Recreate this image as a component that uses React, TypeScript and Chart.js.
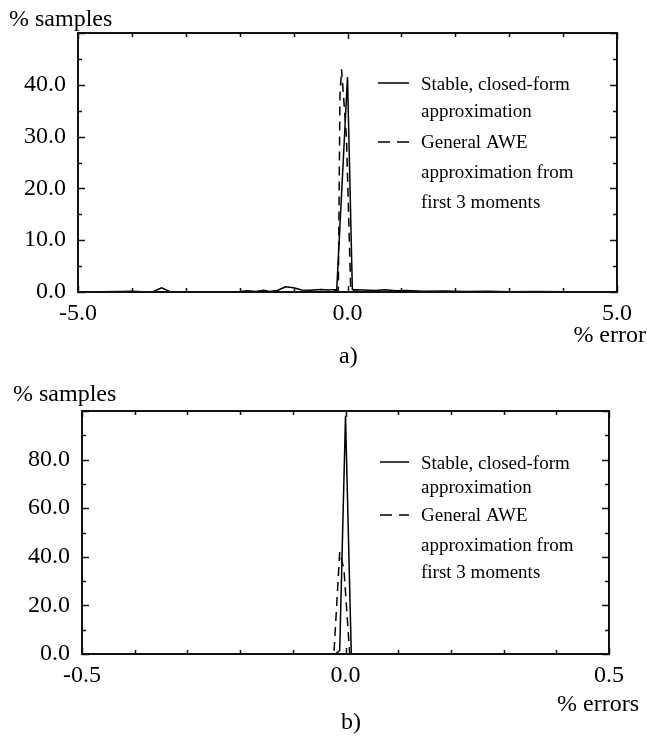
import React, { useEffect, useRef } from "react";
import { Chart, registerables } from "chart.js";

Chart.register(...registerables);

const SERIF = '"Liberation Serif", "Times New Roman", Times, serif';

// ---------- panel a) ----------
const A_SOLID_X = [-5.0, -4.6, -4.2, -4.0, -3.8, -3.6, -3.45, -3.3, -3.0, -2.6, -2.2, -2.0, -1.85, -1.7, -1.55, -1.45, -1.3, -1.15, -1.0, -0.85, -0.7, -0.5, -0.35, -0.2, 0.0, 0.09, 0.3, 0.5, 0.7, 0.9, 1.1, 1.4, 1.8, 2.2, 2.6, 3.0, 3.5, 4.0, 4.5, 5.0];
const A_SOLID_Y = [0.05, 0.05, 0.1, 0.15, 0.05, 0.1, 0.8, 0.1, 0.05, 0.05, 0.05, 0.1, 0.25, 0.1, 0.35, 0.1, 0.3, 1.0, 0.8, 0.4, 0.35, 0.5, 0.4, 0.5, 41.5, 0.5, 0.4, 0.3, 0.45, 0.25, 0.3, 0.15, 0.2, 0.1, 0.15, 0.05, 0.1, 0.05, 0.05, 0.05];
const A_DASH_X = [-5.0, -0.3, -0.17, -0.14, -0.11, -0.02, 0.06, 0.3, 5.0];
const A_DASH_Y = [0, 0, 0.4, 38, 43, 30, 0.3, 0, 0];
const A_X_MIN = -5;
const A_X_MAX = 5;
const A_X_STEP = 1;
const A_X_LABELS = [-5, 0, 5];
const A_Y_MAX = 50;
const A_Y_STEP = 5;
const A_Y_LABELS = [0, 10, 20, 30, 40];

// ---------- panel b) ----------
const B_SOLID_X = [-0.5, -0.019, -0.011, 0.0, 0.011, 0.5];
const B_SOLID_Y = [0, 0, 1.5, 98, 0, 0];
const B_DASH_X = [-0.5, -0.022, -0.011, -0.003, 0.008, 0.5];
const B_DASH_Y = [0, 0, 42, 35, 0, 0];
const B_X_MIN = -0.5;
const B_X_MAX = 0.5;
const B_X_STEP = 0.1;
const B_X_LABELS = [-0.5, 0, 0.5];
const B_Y_MAX = 100;
const B_Y_STEP = 10;
const B_Y_LABELS = [0, 20, 40, 60, 80];

// ---------- texts ----------
const Y_TITLE = "% samples";
const A_X_TITLE = "% error";
const B_X_TITLE = "% errors";
const A_CAPTION = "a)";
const B_CAPTION = "b)";
const LEGEND_SOLID = ["Stable, closed-form", "approximation"];
const LEGEND_DASH = ["General AWE", "approximation from", "first 3 moments"];

const W = 647;

type Panel = {
  height: number;
  area: { left: number; top: number; right: number; bottom: number };
  solidX: number[]; solidY: number[]; dashX: number[]; dashY: number[];
  xMin: number; xMax: number; xStep: number; xLabels: number[];
  yMax: number; yStep: number; yLabels: number[];
  yTitle: { x: number; y: number };
  xTitle: { text: string; x: number; y: number };
  caption: { text: string; x: number; y: number };
  legend: { x0: number; x1: number; tx: number; solidY: number; solidBase: number[]; dashY: number; dashBase: number[] };
};

const PANELS: Panel[] = [
  {
    height: 375,
    area: { left: 78, top: 33, right: 617, bottom: 292 },
    solidX: A_SOLID_X, solidY: A_SOLID_Y, dashX: A_DASH_X, dashY: A_DASH_Y,
    xMin: A_X_MIN, xMax: A_X_MAX, xStep: A_X_STEP, xLabels: A_X_LABELS,
    yMax: A_Y_MAX, yStep: A_Y_STEP, yLabels: A_Y_LABELS,
    yTitle: { x: 9, y: 26 },
    xTitle: { text: A_X_TITLE, x: 646, y: 342 },
    caption: { text: A_CAPTION, x: 339, y: 363 },
    legend: { x0: 378, x1: 409, tx: 421, solidY: 83, solidBase: [90, 117], dashY: 142, dashBase: [148, 178, 208] },
  },
  {
    height: 364,
    area: { left: 82, top: 36, right: 609, bottom: 279 },
    solidX: B_SOLID_X, solidY: B_SOLID_Y, dashX: B_DASH_X, dashY: B_DASH_Y,
    xMin: B_X_MIN, xMax: B_X_MAX, xStep: B_X_STEP, xLabels: B_X_LABELS,
    yMax: B_Y_MAX, yStep: B_Y_STEP, yLabels: B_Y_LABELS,
    yTitle: { x: 13, y: 26 },
    xTitle: { text: B_X_TITLE, x: 639, y: 336 },
    caption: { text: B_CAPTION, x: 341, y: 354 },
    legend: { x0: 380, x1: 409, tx: 421, solidY: 87, solidBase: [94, 118], dashY: 140, dashBase: [146, 176, 203] },
  },
];

const isIn = (v: number, list: number[]) => list.some((l) => Math.abs(l - v) < 1e-9);

function makeDecor(p: Panel) {
  return {
    id: "decor",
    afterDraw(chart: any) {
      const ctx = chart.ctx as CanvasRenderingContext2D;
      const a = chart.chartArea;
      const xs = chart.scales.x;
      const ys = chart.scales.y;
      ctx.save();
      // frame
      ctx.strokeStyle = "#111";
      ctx.lineWidth = 2;
      ctx.strokeRect(a.left, a.top, a.right - a.left, a.bottom - a.top);
      // inward ticks on all four sides
      ctx.lineWidth = 1.5;
      ctx.beginPath();
      xs.ticks.forEach((t: any) => {
        const px = Math.round(xs.getPixelForValue(t.value)) + 0.5;
        const len = isIn(t.value, p.xLabels) ? 6 : 4;
        ctx.moveTo(px, a.bottom);
        ctx.lineTo(px, a.bottom - len);
        ctx.moveTo(px, a.top);
        ctx.lineTo(px, a.top + len);
      });
      ys.ticks.forEach((t: any) => {
        const py = Math.round(ys.getPixelForValue(t.value)) + 0.5;
        const len = isIn(t.value, p.yLabels) || t.value === p.yMax ? 7 : 4;
        ctx.moveTo(a.left, py);
        ctx.lineTo(a.left + len, py);
        ctx.moveTo(a.right, py);
        ctx.lineTo(a.right - len, py);
      });
      ctx.stroke();
      // titles
      ctx.fillStyle = "#000";
      ctx.textBaseline = "alphabetic";
      ctx.font = `24px ${SERIF}`;
      ctx.textAlign = "left";
      ctx.fillText(Y_TITLE, p.yTitle.x, p.yTitle.y);
      ctx.textAlign = "right";
      ctx.fillText(p.xTitle.text, p.xTitle.x, p.xTitle.y);
      ctx.textAlign = "left";
      ctx.fillText(p.caption.text, p.caption.x, p.caption.y);
      // legend
      const L = p.legend;
      ctx.lineWidth = 1.5;
      ctx.strokeStyle = "#000";
      ctx.setLineDash([]);
      ctx.beginPath();
      ctx.moveTo(L.x0, L.solidY);
      ctx.lineTo(L.x1, L.solidY);
      ctx.stroke();
      ctx.setLineDash([12, 7]);
      ctx.beginPath();
      ctx.moveTo(L.x0, L.dashY);
      ctx.lineTo(L.x1, L.dashY);
      ctx.stroke();
      ctx.setLineDash([]);
      ctx.font = `19px ${SERIF}`;
      LEGEND_SOLID.forEach((s, i) => ctx.fillText(s, L.tx, L.solidBase[i]));
      LEGEND_DASH.forEach((s, i) => ctx.fillText(s, L.tx, L.dashBase[i]));
      ctx.restore();
    },
  };
}

function PanelChart({ p }: { p: Panel }) {
  const ref = useRef<HTMLCanvasElement>(null);
  useEffect(() => {
    const tickFont = { family: SERIF, size: 24 };
    const chart = new Chart(ref.current as HTMLCanvasElement, {
      type: "line",
      data: {
        datasets: [
          {
            label: LEGEND_SOLID.join(" "),
            data: p.solidX.map((x, i) => ({ x, y: p.solidY[i] })),
            borderColor: "#000",
            borderWidth: 1.5,
            pointRadius: 0,
            tension: 0,
            fill: false,
          },
          {
            label: LEGEND_DASH.join(" "),
            data: p.dashX.map((x, i) => ({ x, y: p.dashY[i] })),
            borderColor: "#000",
            borderWidth: 1.5,
            borderDash: [9, 6],
            pointRadius: 0,
            tension: 0,
            fill: false,
          },
        ],
      },
      options: {
        animation: false,
        responsive: false,
        devicePixelRatio: 1,
        layout: { padding: { left: 0, top: p.area.top, right: W - p.area.right, bottom: 0 } },
        plugins: { legend: { display: false }, tooltip: { enabled: false }, title: { display: false } },
        scales: {
          x: {
            type: "linear",
            position: "bottom",
            min: p.xMin,
            max: p.xMax,
            grid: { display: false, drawTicks: false },
            border: { display: false },
            ticks: {
              stepSize: p.xStep,
              autoSkip: false,
              maxRotation: 0,
              minRotation: 0,
              padding: 7,
              color: "#000",
              font: tickFont,
              callback: (v: any) => {
                const n = Math.abs(Number(v)) < 1e-9 ? 0 : Number(v);
                return isIn(n, p.xLabels) ? n.toFixed(1) : "";
              },
            },
            afterFit: (s: any) => {
              s.height = p.height - p.area.bottom;
            },
          },
          y: {
            type: "linear",
            position: "left",
            min: 0,
            max: p.yMax,
            grid: { display: false, drawTicks: false },
            border: { display: false },
            ticks: {
              stepSize: p.yStep,
              autoSkip: false,
              padding: 12,
              color: "#000",
              font: tickFont,
              callback: (v: any) => (isIn(Number(v), p.yLabels) ? Number(v).toFixed(1) : ""),
            },
            afterFit: (s: any) => {
              s.width = p.area.left;
            },
          },
        },
      } as any,
      plugins: [makeDecor(p)],
    });
    return () => chart.destroy();
  }, [p]);
  return (
    <canvas
      ref={ref}
      width={W}
      height={p.height}
      style={{ display: "block", width: W, height: p.height }}
    />
  );
}

export default function App() {
  return (
    <div style={{ position: "absolute", left: 0, top: 0, width: W, height: 739, background: "#fff" }}>
      {PANELS.map((p, i) => (
        <PanelChart key={i} p={p} />
      ))}
    </div>
  );
}
